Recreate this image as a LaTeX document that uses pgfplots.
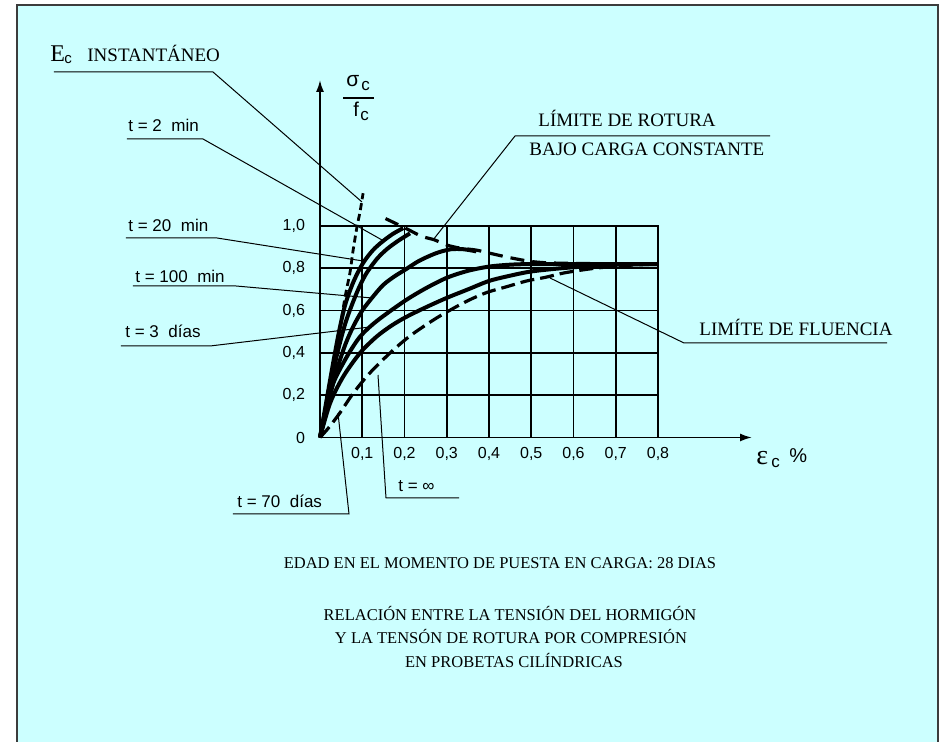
\documentclass[border=0pt]{standalone}
\usepackage{fontspec}
\setmainfont{Liberation Serif}
\setsansfont{Liberation Sans}
\usepackage{pgfplots}
\pgfplotsset{compat=1.18}
\usetikzlibrary{arrows.meta}
\definecolor{bg}{RGB}{204,255,255}
\definecolor{framec}{RGB}{60,60,60}
\newcommand\lblS{\fontsize{9.5}{11}\selectfont}
\newcommand\lblB{\fontsize{8.25}{10}\selectfont}
\newcommand\lblT{\fontsize{8.5}{10}\sffamily}
\begin{document}
\begin{tikzpicture}
\begin{scope}[x=0.5pt,y=-0.5pt,shift={(-160pt,218.75pt)}]
 \fill[white] (0,0) rectangle (942,742);
 \fill[bg] (17,5) rectangle (938,742);
 \draw[framec,line width=1pt] (17,742)--(17,5)--(938,5)--(938,742);
\end{scope}
\begin{axis}[
  scale only axis, width=169pt, height=105.75pt,
  xmin=0, xmax=0.8, ymin=0, ymax=1,
  xtick={0.1,0.2,0.3,0.4,0.5,0.6,0.7,0.8},
  xticklabels={{0,1},{0,2},{0,3},{0,4},{0,5},{0,6},{0,7},{0,8}},
  ytick={0,0.2,0.4,0.6,0.8,1},
  yticklabels={0,{0,2},{0,4},{0,6},{0,8},{1,0}},
  grid=major, grid style={black, line width=0.9pt},
  axis line style={black, line width=0.9pt},
  major tick length=0pt,
  tick label style={font=\fontsize{8}{9}\sffamily, text=black},
  xticklabel style={yshift=-1.5pt},
  yticklabel style={xshift=-4pt},
  clip=false,
]
% E_c instantaneous (dashed)
\addplot[black, line width=1.4pt, dash pattern=on 3.5pt off 2pt, smooth] coordinates {
 (0,0) (0.02,0.21) (0.04,0.43) (0.059,0.66) (0.071,0.78) (0.078,0.88) (0.087,0.99) (0.095,1.07) (0.102,1.155)};
% t = 2 min
\addplot[black, line width=2pt, smooth] coordinates {
 (0,0) (0.015,0.17) (0.03,0.34) (0.045,0.5) (0.06,0.63) (0.08,0.74) (0.102,0.825) (0.125,0.885) (0.147,0.925) (0.172,0.962) (0.197,0.99)};
% t = 20 min
\addplot[black, line width=2pt, smooth] coordinates {
 (0,0) (0.02,0.2) (0.04,0.39) (0.06,0.54) (0.08,0.65) (0.095,0.72) (0.111,0.78) (0.135,0.845) (0.158,0.89) (0.185,0.93) (0.213,0.965)};
% t = 100 min
\addplot[black, line width=2pt, smooth] coordinates {
 (0,0) (0.02,0.17) (0.04,0.32) (0.06,0.44) (0.08,0.53) (0.1,0.6) (0.123,0.66) (0.149,0.72) (0.175,0.76) (0.203,0.795) (0.23,0.83) (0.253,0.853) (0.28,0.875) (0.31,0.89) (0.34,0.89) (0.37,0.88)};
% t = 3 dias
\addplot[black, line width=2pt, smooth] coordinates {
 (0,0) (0.015,0.13) (0.031,0.255) (0.063,0.38) (0.095,0.477) (0.134,0.55) (0.2,0.645) (0.25,0.705) (0.3,0.755) (0.35,0.788) (0.4,0.808) (0.45,0.817) (0.5,0.82) (0.6,0.82) (0.7,0.82) (0.8,0.82)};
% t = 70 dias
\addplot[black, line width=2pt, smooth] coordinates {
 (0,0) (0.024,0.163) (0.055,0.288) (0.095,0.40) (0.134,0.477) (0.17,0.53) (0.205,0.571) (0.25,0.615) (0.3,0.66) (0.35,0.70) (0.4,0.74) (0.45,0.765) (0.5,0.785) (0.57,0.80) (0.65,0.812) (0.72,0.818) (0.8,0.82)};
% t = infinito (dashed)
\addplot[black, line width=1.6pt, dash pattern=on 7pt off 3pt, smooth] coordinates {
 (0,0) (0.02,0.045) (0.047,0.116) (0.079,0.21) (0.118,0.305) (0.166,0.40) (0.213,0.48) (0.276,0.565) (0.343,0.64) (0.394,0.685) (0.442,0.713) (0.489,0.74) (0.533,0.757) (0.58,0.779) (0.65,0.80) (0.72,0.813) (0.8,0.82)};
% limite de rotura (dashed)
\addplot[black, line width=1.6pt, dash pattern=on 7pt off 4pt, smooth] coordinates {
 (0.155,1.035) (0.197,0.995) (0.24,0.952) (0.27,0.935) (0.3,0.91) (0.33,0.896) (0.37,0.886) (0.4,0.872) (0.45,0.85) (0.5,0.832) (0.55,0.825) (0.65,0.822) (0.8,0.82)};
\end{axis}
\begin{scope}[x=0.5pt,y=-0.5pt,shift={(-160pt,218.75pt)}]
 % axis arrows
 \draw[black,line width=0.9pt,-{Latex[length=6pt,width=4pt]}] (320,437.5)--(752,437.5);
 \draw[black,line width=0.9pt,-{Latex[length=6pt,width=4pt]}] (320,437.5)--(320,80);
 % axis labels
 \node[anchor=base west,inner sep=0] at (346,87) {\fontsize{10.5}{11}\sffamily σ};
 \node[anchor=base west,inner sep=0] at (361,91) {\fontsize{8.5}{10}\sffamily c};
 \draw[black,line width=0.7pt] (343,98)--(374,98);
 \node[anchor=base west,inner sep=0] at (353,117) {\fontsize{10}{11}\sffamily f};
 \node[anchor=base west,inner sep=0] at (360,121) {\fontsize{8.5}{10}\sffamily c};
 \node[anchor=base west,inner sep=0] at (756,465) {\fontsize{14}{14}\selectfont ε};
 \node[anchor=base west,inner sep=0] at (771,468) {\fontsize{8.5}{10}\sffamily c};
 \node[anchor=base west,inner sep=0] at (789,463) {\fontsize{10}{11}\sffamily \%};
 % leader lines
 \begin{scope}[black,line width=0.5pt]
 \draw (54,72)--(213,72)--(362,202);
 \draw (127,139)--(203,139)--(382,240);
 \draw (126,238)--(217,238)--(363,261);
 \draw (133,286)--(236,286)--(372,298);
 \draw (121,346)--(210,346)--(370,327);
 \draw (233,514)--(349,514)--(338,413);
 \draw (459,498)--(386,498)--(378,375);
 \draw (770,136)--(515,136)--(433,240);
 \draw (887,343)--(684,343)--(550,278);
 \end{scope}
 % labels
 \node[anchor=base west,inner sep=0] at (50,62) {\fontsize{12}{12}\selectfont E};
 \node[anchor=base west,inner sep=0] at (64,64) {\fontsize{7.5}{8}\sffamily c};
 \node[anchor=base west,inner sep=0] at (87,62) {\lblS INSTANTÁNEO};
 \node[anchor=base west,inner sep=0] at (128,132) {\lblT t = 2\ \ min};
 \node[anchor=base west,inner sep=0] at (128,232) {\lblT t = 20\ \ min};
 \node[anchor=base west,inner sep=0] at (135,283) {\lblT t = 100\ \ min};
 \node[anchor=base west,inner sep=0] at (125,338) {\lblT t = 3\ \ días};
 \node[anchor=base west,inner sep=0] at (237,508) {\lblT t = 70\ \ días};
 \node[anchor=base west,inner sep=0] at (398,492) {\lblT t = ∞};
 \node[anchor=base west,inner sep=0] at (538,127) {\lblS LÍMITE DE ROTURA};
 \node[anchor=base west,inner sep=0] at (529,156) {\lblS BAJO CARGA CONSTANTE};
 \node[anchor=base west,inner sep=0] at (699,336) {\lblS LIMÍTE DE FLUENCIA};
 \node[anchor=base,inner sep=0] at (500,569) {\lblB EDAD EN EL MOMENTO DE PUESTA EN CARGA: 28 DIAS};
 \node[anchor=base,inner sep=0] at (510,621) {\lblB RELACIÓN ENTRE LA TENSIÓN DEL HORMIGÓN};
 \node[anchor=base,inner sep=0] at (511,644) {\lblB Y LA TENSÓN DE ROTURA POR COMPRESIÓN};
 \node[anchor=base,inner sep=0] at (514,668) {\lblB EN PROBETAS CILÍNDRICAS};
 \pgfresetboundingbox
 \path[use as bounding box] (0,0) rectangle (942,742);
\end{scope}
\end{tikzpicture}
\end{document}
